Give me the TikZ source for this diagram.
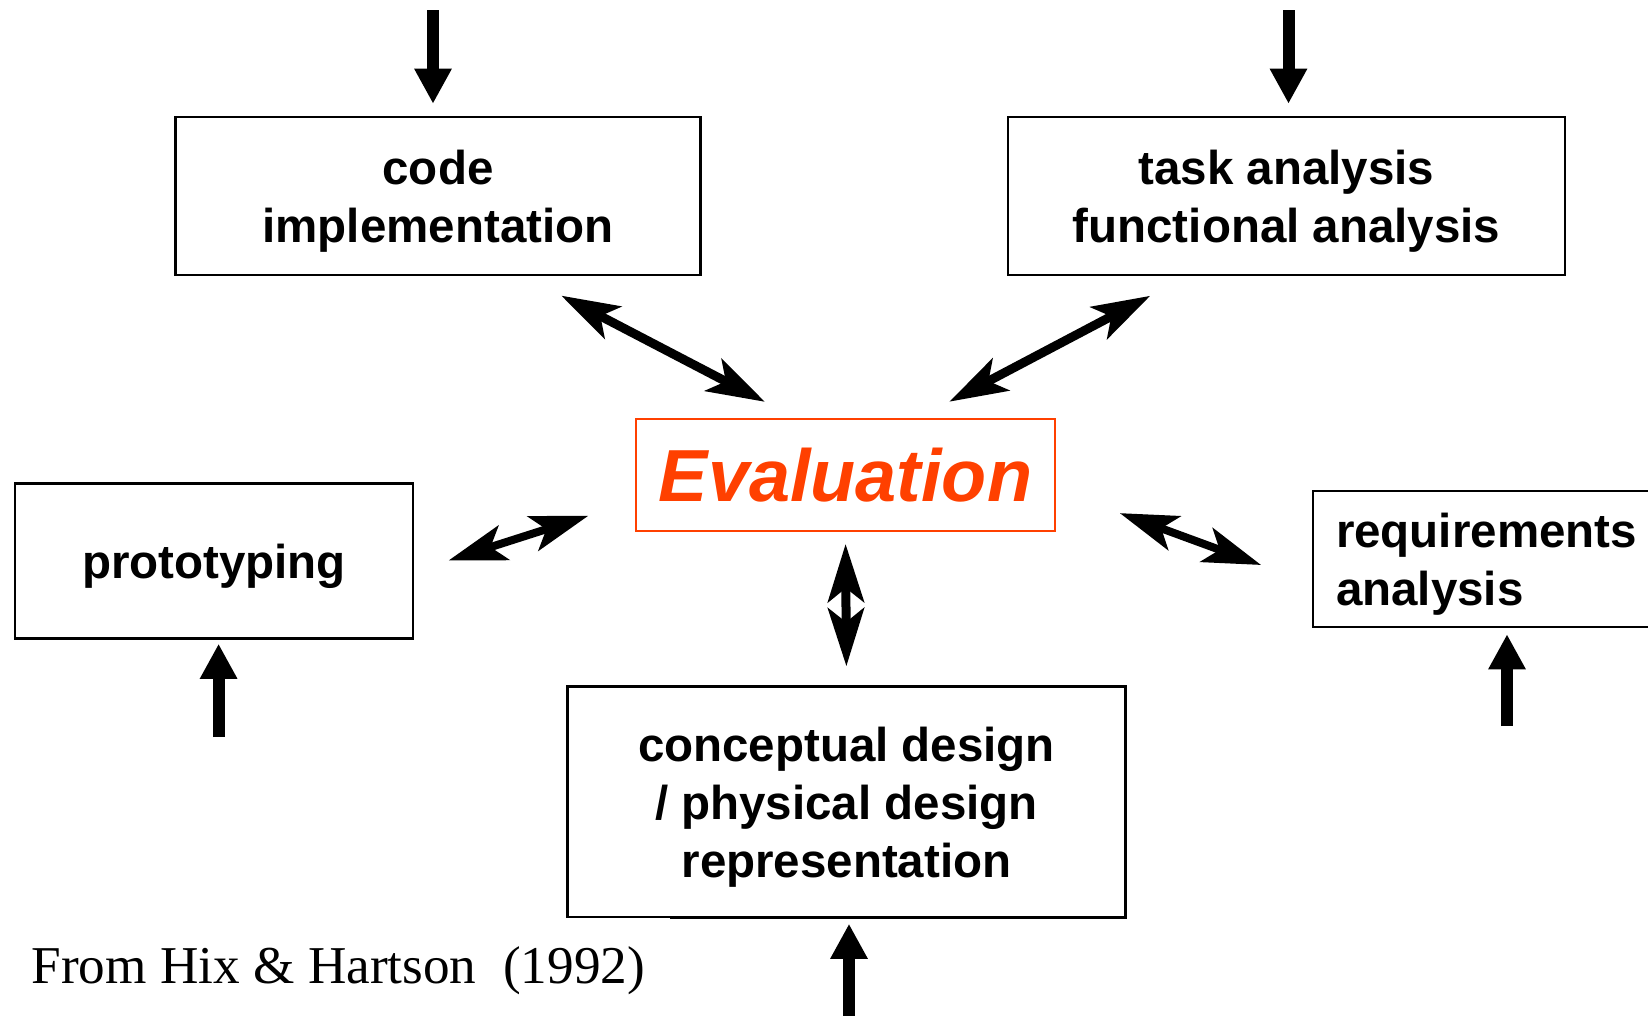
\documentclass[tikz,border=0pt]{standalone}
\usepackage{fontspec}
\setmainfont{Liberation Serif}
\setsansfont{Liberation Sans}
\usetikzlibrary{arrows.meta,positioning}
\definecolor{evalred}{RGB}{255,64,0}

\begin{document}
\begin{tikzpicture}[x=1pt, y=-1pt, every node/.style={inner sep=0pt},
        stage/.style={draw, line width=2.5pt, align=center, text depth=0pt, font=\fontsize{47.5}{58}\selectfont\sffamily\bfseries},
        twoway/.style={<->, line width=9pt, >={Stealth[length=58pt,width=36pt,inset=14pt]}},
        inflow/.style={->, line width=12pt, >={Triangle[length=35pt,width=35pt]}}]
        \useasboundingbox (0,0) rectangle (1648,1016);

                \node[stage, minimum width=525pt, minimum height=158pt]  (code)    at (438,196)    {code\\implementation};
                \node[stage, minimum width=557pt, minimum height=158pt]  (task)    at (1286.5,196) {task analysis\\functional analysis};
                \node[draw=evalred, line width=2pt, minimum width=419pt, minimum height=112pt, text=evalred,
                      font=\fontsize{73.8}{80}\selectfont\sffamily\bfseries\itshape] (eval) at (845.5,475) {Evaluation};
                \node[stage, minimum width=398pt, minimum height=155pt]  (proto)   at (214,561)    {prototyping};
                \node[stage, minimum width=347pt, minimum height=136pt, align=left] (req) at (1486.5,559) {requirements\\analysis};
                \node[stage, minimum width=558pt, minimum height=231pt]  (concept) at (846.5,802)  {conceptual design\\/ physical design\\representation};
                \node[fill=white, inner xsep=25pt, inner ysep=28.5pt, anchor=base west,
                      font=\fontsize{53.2}{60}\selectfont]               (src)     at (6.5,983)    {From Hix \& Hartson~~(1992)};

                \coordinate (inCode)    at (433,10.5);
                \coordinate (inTask)    at (1288.5,10.5);
                \coordinate (inProto)   at (218.6,737);
                \coordinate (inReq)     at (1507,726);
                \coordinate (inConcept) at (849,1020);

            \draw[inflow, shorten >=12pt]  (inCode)    -- (inCode |- code.north);
            \draw[inflow, shorten >=12pt]  (inTask)    -- (inTask |- task.north);
            \draw[inflow, shorten >=4pt]   (inProto)   -- (inProto |- proto.south);
            \draw[inflow, shorten >=6pt]   (inReq)     -- (inReq |- req.south);
            \draw[inflow, shorten >=5pt]   (inConcept) -- (inConcept |- concept.south);

            \path[twoway] (code.-43)    edge[shorten <=42pt, shorten >=35pt] (eval.131)
                          (task.-141)   edge[shorten <=42pt, shorten >=35pt] (eval.38.5)
                          (proto.-3.3)  edge[line width=8pt, shorten <=36pt, shorten >=49pt] (eval.-173.8)
                          (eval.-4.6)   edge[line width=8pt, shorten <=68pt, shorten >=54pt] (req.-172.9)
                          (eval.south)  edge[shorten <=12pt, shorten >=19pt] (concept.north);
        	\end{tikzpicture}
\end{document}
